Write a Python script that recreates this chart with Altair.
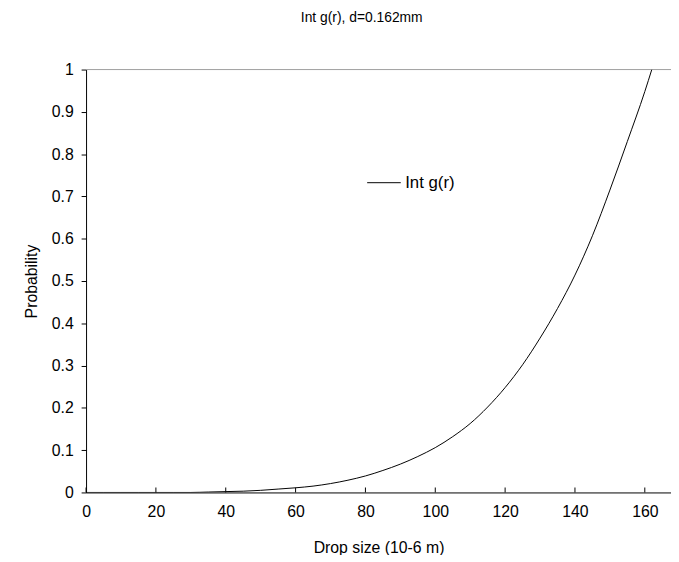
import altair as alt
import pandas as pd

drop_size = [0, 5, 10, 15, 20, 25, 30, 35, 40, 45, 50, 55, 60, 65, 70, 75, 80, 85,
             90, 95, 100, 105, 110, 115, 120, 125, 130, 135, 140, 145, 150, 155, 160, 162]
probability = [0, 0, 0, 0, 0, 0, 0, 0.001, 0.002, 0.003, 0.005, 0.008, 0.011, 0.015,
               0.021, 0.029, 0.039, 0.052, 0.067, 0.085, 0.106, 0.132, 0.163, 0.202,
               0.248, 0.302, 0.365, 0.435, 0.514, 0.607, 0.715, 0.830, 0.948, 1.0]
x_ticks = [0, 20, 40, 60, 80, 100, 120, 140, 160]
y_ticks = [0, 0.1, 0.2, 0.3, 0.4, 0.5, 0.6, 0.7, 0.8, 0.9, 1.0]
series_name = "Int g(r)"
chart_title = "Int g(r), d=0.162mm"
x_title = "Drop size (10-6 m)"
y_title = "Probability"

FONT = "Liberation Sans"

df = pd.DataFrame({"size": drop_size, "prob": probability, "series": series_name})

x_scale = alt.Scale(domain=[0, 167.5], nice=False, zero=False)
y_scale = alt.Scale(domain=[0, 1], nice=False)

x_axis = alt.Axis(values=x_ticks, title=x_title, tickSize=0, labelPadding=11,
                  grid=False, domainColor="black", domainWidth=1,
                  labelColor="black", titleColor="black", labelFontSize=16,
                  titleFontSize=16, titleFontWeight="normal", labelFont=FONT,
                  titleFont=FONT, titlePadding=21, labelFlush=False)
y_axis = alt.Axis(values=y_ticks, format=".1~f", title=y_title, tickSize=5,
                  tickColor="black", labelPadding=8, grid=False,
                  domainColor="black", domainWidth=1, labelColor="black",
                  titleColor="black", labelFontSize=16, titleFontSize=16,
                  titleFontWeight="normal", labelFont=FONT, titleFont=FONT,
                  titlePadding=12)

curve = alt.Chart(df).mark_line(strokeWidth=1, clip=True,
                                interpolate="monotone").encode(
    x=alt.X("size:Q", scale=x_scale, axis=x_axis),
    y=alt.Y("prob:Q", scale=y_scale, axis=y_axis),
    color=alt.Color("series:N", scale=alt.Scale(range=["black"]),
                    legend=alt.Legend(orient="none", legendX=284, legendY=97,
                                      title=None, symbolType="stroke",
                                      symbolSize=1156, symbolStrokeWidth=1,
                                      labelFontSize=17, labelFont=FONT,
                                      labelColor="black", padding=0,
                                      labelOffset=4)),
)

top_line = alt.Chart(pd.DataFrame({"prob": [1.0]})).mark_rule(
    color="#a0a0a0", strokeWidth=1).encode(y=alt.Y("prob:Q", scale=y_scale))

ticks = alt.Chart(pd.DataFrame({"size": x_ticks})).mark_rule(
    color="black", strokeWidth=1).encode(
    x=alt.X("size:Q", scale=x_scale),
    y=alt.value(428), y2=alt.value(423))

chart = alt.layer(top_line, curve, ticks).properties(
    width=592, height=428, autosize="none",
    padding={"left": 79, "top": 59, "right": 0, "bottom": 60},
    title=alt.TitleParams(chart_title, fontSize=14, fontWeight="normal",
                          font=FONT, color="black", offset=37, dx=-17),
).configure_view(stroke=None)

chart.save("out.html", embed_options={"renderer": "svg", "actions": False})
